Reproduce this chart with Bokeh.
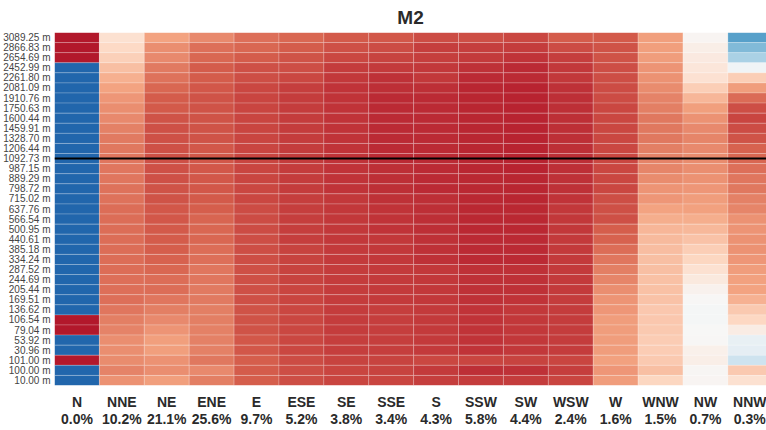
from bokeh.plotting import figure
from bokeh.models import ColumnDataSource, LinearColorMapper, Range1d, FactorRange, FixedTicker
from bokeh.embed import file_html
from bokeh.resources import INLINE

title_text = "M2"
directions = ["N", "NNE", "NE", "ENE", "E", "ESE", "SE", "SSE",
              "S", "SSW", "SW", "WSW", "W", "WNW", "NW", "NNW"]
percents = ["0.0%", "10.2%", "21.1%", "25.6%", "9.7%", "5.2%", "3.8%", "3.4%",
            "4.3%", "5.8%", "4.4%", "2.4%", "1.6%", "1.5%", "0.7%", "0.3%"]
# heights, top row first
heights = ["3089.25 m", "2866.83 m", "2654.69 m", "2452.99 m", "2261.80 m", "2081.09 m",
           "1910.76 m", "1750.63 m", "1600.44 m", "1459.91 m", "1328.70 m", "1206.44 m",
           "1092.73 m", "987.15 m", "889.29 m", "798.72 m", "715.02 m", "637.76 m",
           "566.54 m", "500.95 m", "440.61 m", "385.18 m", "334.24 m", "287.52 m",
           "244.69 m", "205.44 m", "169.51 m", "136.62 m", "106.54 m", "79.04 m",
           "53.92 m", "30.96 m", "101.00 m", "100.00 m", "10.00 m"]
hub_height = "1092.73 m"

# normalised values per direction (-1 blue ... +1 red), rows top to bottom
v_N = [1, 1, 1] + [-1] * 25 + [1, 1, -1, -1, 1, -1, -1]
v_NNE = [0.2, 0.25, 0.3, 0.38, 0.45, 0.5, 0.55, 0.58, 0.6, 0.63, 0.65, 0.66, 0.67, 0.67, 0.67, 0.68, 0.68,
         0.7, 0.7, 0.7, 0.7, 0.7, 0.7, 0.7, 0.69, 0.69, 0.69, 0.67, 0.64, 0.62, 0.58, 0.58, 0.59, 0.62, 0.57]
v_NE = [0.5, 0.58, 0.6, 0.65, 0.68, 0.72, 0.76, 0.77, 0.79, 0.8, 0.8, 0.8, 0.8, 0.8, 0.8, 0.79, 0.79,
        0.78, 0.78, 0.77, 0.76, 0.75, 0.74, 0.72, 0.7, 0.7, 0.67, 0.64, 0.6, 0.56, 0.52, 0.52, 0.57, 0.58, 0.52]
v_ENE = [0.6, 0.69, 0.72, 0.76, 0.76, 0.78, 0.79, 0.79, 0.79, 0.79, 0.79, 0.78, 0.78, 0.78, 0.78, 0.78, 0.77,
         0.75, 0.73, 0.72, 0.72, 0.7, 0.69, 0.67, 0.67, 0.65, 0.65, 0.64, 0.64, 0.63, 0.63, 0.63, 0.66, 0.6, 0.64]
v_E = [0.69, 0.72, 0.76, 0.8, 0.81, 0.83, 0.84, 0.84, 0.84, 0.84, 0.84, 0.84, 0.84, 0.84, 0.84, 0.83, 0.83,
       0.82, 0.82, 0.82, 0.81, 0.81, 0.81, 0.8, 0.8, 0.8, 0.8, 0.79, 0.79, 0.79, 0.78, 0.78, 0.75, 0.76, 0.75]
v_ESE = [0.72, 0.76, 0.79, 0.81, 0.83, 0.86, 0.87, 0.87, 0.87, 0.87, 0.87, 0.87, 0.87, 0.87, 0.87, 0.87, 0.86,
         0.86, 0.86, 0.86, 0.86, 0.85, 0.85, 0.85, 0.85, 0.84, 0.84, 0.83, 0.83, 0.83, 0.83, 0.83, 0.82, 0.81, 0.81]
v_SE = [0.77, 0.8, 0.83, 0.87, 0.89, 0.9, 0.9, 0.9, 0.9, 0.9, 0.9, 0.9, 0.9, 0.9, 0.9, 0.9, 0.89,
        0.89, 0.89, 0.89, 0.89, 0.88, 0.88, 0.87, 0.87, 0.87, 0.87, 0.87, 0.87, 0.87, 0.86, 0.86, 0.85, 0.84, 0.84]
v_SSE = [0.78, 0.82, 0.85, 0.88, 0.91, 0.92, 0.93, 0.93, 0.93, 0.93, 0.93, 0.93, 0.93, 0.92, 0.92, 0.92, 0.91,
         0.9, 0.9, 0.9, 0.89, 0.89, 0.89, 0.88, 0.88, 0.88, 0.88, 0.86, 0.86, 0.86, 0.86, 0.86, 0.85, 0.85, 0.84]
v_S = [0.82, 0.86, 0.86, 0.89, 0.89, 0.92, 0.93, 0.93, 0.93, 0.93, 0.93, 0.93, 0.93, 0.93, 0.93, 0.93, 0.92,
       0.92, 0.92, 0.92, 0.91, 0.91, 0.91, 0.89, 0.89, 0.89, 0.89, 0.88, 0.88, 0.88, 0.88, 0.88, 0.83, 0.88, 0.86]
v_SSW = [0.81, 0.86, 0.88, 0.91, 0.93, 0.95, 0.95, 0.95, 0.95, 0.95, 0.95, 0.95, 0.95, 0.95, 0.94, 0.94, 0.94,
         0.94, 0.94, 0.94, 0.93, 0.93, 0.93, 0.91, 0.91, 0.91, 0.91, 0.9, 0.9, 0.9, 0.9, 0.9, 0.84, 0.92, 0.87]
v_SW = [0.83, 0.87, 0.9, 0.93, 0.93, 0.96, 0.96, 0.96, 0.96, 0.96, 0.96, 0.96, 0.96, 0.96, 0.95, 0.95, 0.95,
        0.94, 0.94, 0.94, 0.93, 0.93, 0.93, 0.91, 0.91, 0.91, 0.9, 0.89, 0.89, 0.89, 0.89, 0.89, 0.85, 0.91, 0.87]
v_WSW = [0.76, 0.82, 0.86, 0.89, 0.89, 0.91, 0.92, 0.92, 0.92, 0.92, 0.92, 0.92, 0.92, 0.92, 0.91, 0.91, 0.9,
         0.89, 0.89, 0.89, 0.88, 0.88, 0.88, 0.88, 0.88, 0.88, 0.87, 0.87, 0.87, 0.87, 0.87, 0.87, 0.84, 0.86, 0.84]
v_W = [0.77, 0.79, 0.79, 0.81, 0.81, 0.82, 0.82, 0.83, 0.83, 0.83, 0.83, 0.83, 0.83, 0.83, 0.83, 0.83, 0.81,
       0.8, 0.8, 0.75, 0.74, 0.7, 0.67, 0.64, 0.61, 0.58, 0.56, 0.55, 0.53, 0.53, 0.53, 0.53, 0.51, 0.55, 0.53]
v_WNW = [0.52, 0.52, 0.53, 0.56, 0.57, 0.59, 0.62, 0.64, 0.66, 0.66, 0.66, 0.64, 0.62, 0.61, 0.59, 0.56, 0.55,
         0.5, 0.46, 0.42, 0.4, 0.39, 0.38, 0.38, 0.37, 0.37, 0.36, 0.34, 0.34, 0.33, 0.32, 0.32, 0.33, 0.38, 0.27]
v_NW = [0.03, 0.08, 0.12, 0.15, 0.19, 0.31, 0.42, 0.52, 0.57, 0.6, 0.61, 0.6, 0.59, 0.58, 0.57, 0.55, 0.53,
        0.51, 0.46, 0.41, 0.36, 0.31, 0.27, 0.2, 0.13, 0.05, 0.01, -0.02, -0.02, 0.0, 0.01, 0.07, 0.08, 0.02, 0.03]
v_NNW = [-0.68, -0.55, -0.4, -0.04, 0.31, 0.53, 0.71, 0.81, 0.84, 0.82, 0.79, 0.74, 0.72, 0.69, 0.67, 0.66, 0.63,
         0.61, 0.57, 0.56, 0.57, 0.57, 0.55, 0.53, 0.51, 0.5, 0.44, 0.33, 0.26, 0.1, -0.1, -0.12, -0.26, 0.33, 0.2]

columns = [v_N, v_NNE, v_NE, v_ENE, v_E, v_ESE, v_SE, v_SSE,
           v_S, v_SSW, v_SW, v_WSW, v_W, v_WNW, v_NW, v_NNW]

# RdBu diverging palette (blue -> white -> red), interpolated
anchors = ["#2166ac", "#4393c3", "#92c5de", "#d1e5f0", "#f7f7f7",
           "#fddbc7", "#f4a582", "#d6604d", "#b2182b"]


def hex2rgb(h):
    return tuple(int(h[i:i + 2], 16) for i in (1, 3, 5))


palette = []
n = 256
for k in range(n):
    t = k / (n - 1) * (len(anchors) - 1)
    i = min(int(t), len(anchors) - 2)
    f = t - i
    a, b = hex2rgb(anchors[i]), hex2rgb(anchors[i + 1])
    c = tuple(round(a[j] + (b[j] - a[j]) * f) for j in range(3))
    palette.append("#%02x%02x%02x" % c)

mapper = LinearColorMapper(palette=palette, low=-1, high=1)

xs, ys, vs = [], [], []
for ci, col in enumerate(columns):
    for ri, val in enumerate(col):
        xs.append(ci + 0.5)
        ys.append(heights[ri])
        vs.append(val)
src = ColumnDataSource(dict(x=xs, y=ys, v=vs))

p = figure(width=766, height=430, output_backend="svg", toolbar_location=None,
           x_range=Range1d(0, 15.86), y_range=FactorRange(factors=list(reversed(heights))),
           min_border_left=54, min_border_right=0, min_border_top=32, min_border_bottom=43)
p.rect(x="x", y="y", width=1, height=1, source=src,
       fill_color={"field": "v", "transform": mapper},
       line_color="white", line_alpha=0.3, line_width=0.7)

p.segment(x0=[0], x1=[16], y0=[hub_height], y1=[hub_height], line_color="black", line_width=2)

p.title.text = title_text
p.title.align = "center"
p.title.text_font = "Liberation Sans"
p.title.text_font_size = "19px"
p.title.text_font_style = "bold"
p.title.text_color = "#2a2a2a"
p.title.standoff = 9
p.title.offset = 0

p.xaxis.ticker = FixedTicker(ticks=[i + 0.5 for i in range(len(directions))])
p.xaxis.major_label_overrides = {i + 0.5: f"{d}\n{pc}" for i, (d, pc) in enumerate(zip(directions, percents))}
p.xaxis.major_label_text_font = "Liberation Sans"
p.xaxis.major_label_text_font_size = "14px"
p.xaxis.major_label_text_font_style = "bold"
p.xaxis.major_label_text_color = "#2a2a2a"
p.xaxis.major_label_text_line_height = 1.1
p.xaxis.major_label_standoff = 8

p.yaxis.major_label_text_font = "Liberation Sans"
p.yaxis.major_label_text_font_size = "10px"
p.yaxis.major_label_text_color = "#444444"
p.yaxis.major_label_standoff = 4

for ax in (p.xaxis, p.yaxis):
    ax.axis_line_color = None
    ax.major_tick_line_color = None
    ax.minor_tick_line_color = None
    ax.major_tick_out = 0
    ax.major_tick_in = 0

p.xgrid.grid_line_color = None
p.ygrid.grid_line_color = None
p.outline_line_color = None
p.background_fill_color = "white"
p.border_fill_color = "white"

open("out.html", "w").write(file_html(p, INLINE))
